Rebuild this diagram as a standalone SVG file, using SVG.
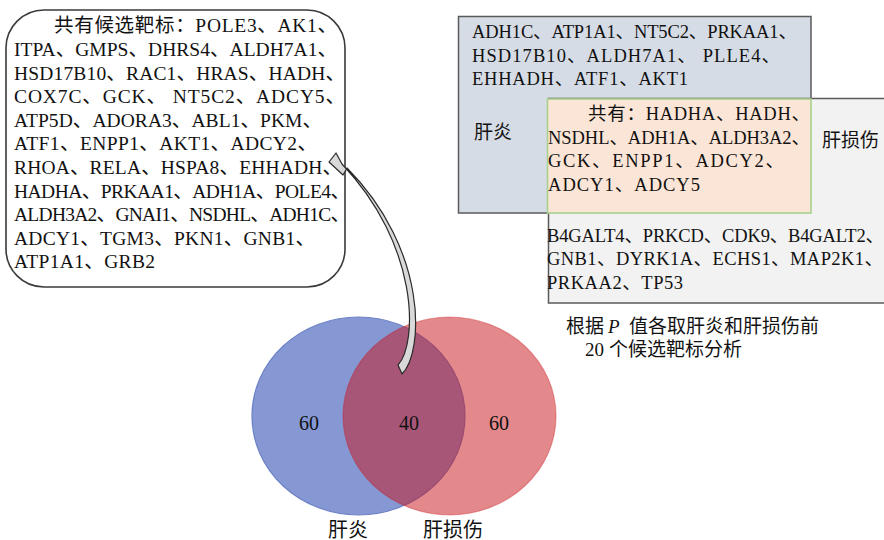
<svg xmlns="http://www.w3.org/2000/svg" width="884" height="540" viewBox="0 0 884 540">
<style>
  text { font-family: 'Liberation Serif', 'Noto Sans CJK SC', serif; fill: #111; }
  .lb { font-size: 19.5px; }
  .rb { font-size: 18.5px; }
  .cj { font-size: 19px; }
  .num { font-size: 20px; text-anchor: middle; }
</style>
<rect width="884" height="540" fill="#ffffff"/>

<g id="callout-box">
  <rect x="6" y="10" width="339" height="277" rx="38" ry="38" fill="#ffffff" stroke="#3a3a3a" stroke-width="1.6"/>
  <text class="lb" x="54" y="32.3" textLength="283" lengthAdjust="spacing">共有候选靶标：POLE3、AK1、</text>
  <text class="lb" x="14" y="55.9" textLength="323" lengthAdjust="spacing">ITPA、GMPS、DHRS4、ALDH7A1、</text>
  <text class="lb" x="14" y="79.5" textLength="331" lengthAdjust="spacing">HSD17B10、RAC1、HRAS、HADH、</text>
  <text class="lb" x="14" y="103.1" textLength="331" lengthAdjust="spacing">COX7C、GCK、 NT5C2、ADCY5、</text>
  <text class="lb" x="14" y="126.7" textLength="308" lengthAdjust="spacing">ATP5D、ADORA3、ABL1、PKM、</text>
  <text class="lb" x="14" y="150.3" textLength="303" lengthAdjust="spacing">ATF1、ENPP1、AKT1、ADCY2、</text>
  <text class="lb" x="14" y="173.9" textLength="328" lengthAdjust="spacing">RHOA、RELA、HSPA8、EHHADH、</text>
  <text class="lb" x="14" y="197.5" textLength="336" lengthAdjust="spacing">HADHA、PRKAA1、ADH1A、POLE4、</text>
  <text class="lb" x="14" y="221.1" textLength="336" lengthAdjust="spacing">ALDH3A2、GNAI1、NSDHL、ADH1C、</text>
  <text class="lb" x="14" y="244.7" textLength="301" lengthAdjust="spacing">ADCY1、TGM3、PKN1、GNB1、</text>
  <text class="lb" x="14" y="268.3" textLength="141" lengthAdjust="spacing">ATP1A1、GRB2</text>
</g>

<g id="venn">
  <ellipse id="venn-hepatitis" cx="358.5" cy="416" rx="106.5" ry="99" fill="#8698D4" stroke="#6E82C6" stroke-width="1.2"/>
  <ellipse id="venn-liver-injury" cx="449.5" cy="416" rx="106.5" ry="99" fill="#C81419" fill-opacity="0.5" stroke="#C81419" stroke-opacity="0.35" stroke-width="1.2"/>
  <text class="num" x="309" y="430">60</text>
  <text class="num" x="409" y="430">40</text>
  <text class="num" x="499" y="430">60</text>
  <text class="cj" x="348" y="537" text-anchor="middle" style="font-size:20px">肝炎</text>
  <text class="cj" x="453" y="537" text-anchor="middle" style="font-size:20px">肝损伤</text>
</g>

<g id="connectors">
  <path d="M 398 365 L 402 374 C 424 352, 428 250, 347 168 L 343 175 L 329 162 L 336 153 L 342 164 C 419 245, 418 343, 398 365 Z" fill="#D9D9D9" stroke="#2a2a2a" stroke-width="1.2" stroke-linejoin="round"/>
</g>

<g id="hepatitis-box">
  <rect x="458.5" y="16.5" width="352.5" height="196.5" fill="#D6DCE5" stroke="#5a5a5a" stroke-width="1.5"/>
  <text class="rb" x="472" y="38.3" textLength="325" lengthAdjust="spacing">ADH1C、ATP1A1、NT5C2、PRKAA1、</text>
  <text class="rb" x="472" y="61.7" textLength="308" lengthAdjust="spacing">HSD17B10、ALDH7A1、 PLLE4、</text>
  <text class="rb" x="472" y="85" textLength="216" lengthAdjust="spacing">EHHADH、ATF1、AKT1</text>
  <text class="cj" x="474" y="139">肝炎</text>
</g>

<g id="injury-box">
  <rect x="548.5" y="98.5" width="345" height="204.5" fill="#F2F2F2" stroke="#5a5a5a" stroke-width="1.5"/>
  <text class="cj" x="822" y="147">肝损伤</text>
  <text class="rb" x="547" y="241.7" textLength="337" lengthAdjust="spacing">B4GALT4、PRKCD、CDK9、B4GALT2、</text>
  <text class="rb" x="547" y="265" textLength="336" lengthAdjust="spacing">GNB1、DYRK1A、ECHS1、MAP2K1、</text>
  <text class="rb" x="547" y="289.3" textLength="136" lengthAdjust="spacing">PRKAA2、TP53</text>
</g>

<g id="shared-box">
  <rect x="547.5" y="99" width="263.5" height="114" fill="#FBE5D6" stroke="#A9D18E" stroke-width="1.6"/>
  <text class="rb" x="588" y="120" textLength="222" lengthAdjust="spacing">共有：HADHA、HADH、</text>
  <text class="rb" x="548" y="143.5" textLength="262" lengthAdjust="spacing">NSDHL、ADH1A、ALDH3A2、</text>
  <text class="rb" x="548" y="167" textLength="236" lengthAdjust="spacing">GCK、ENPP1、ADCY2、</text>
  <text class="rb" x="548" y="190.5" textLength="152" lengthAdjust="spacing">ADCY1、ADCY5</text>
</g>

<g id="caption">
  <text class="cj" y="333"><tspan x="566">根据</tspan><tspan x="608" style="font-style:italic">P</tspan><tspan x="629">值各取肝炎和肝损伤前</tspan></text>
  <text class="cj" y="356"><tspan x="585">20</tspan><tspan x="609">个候选靶标分析</tspan></text>
</g>
</svg>
